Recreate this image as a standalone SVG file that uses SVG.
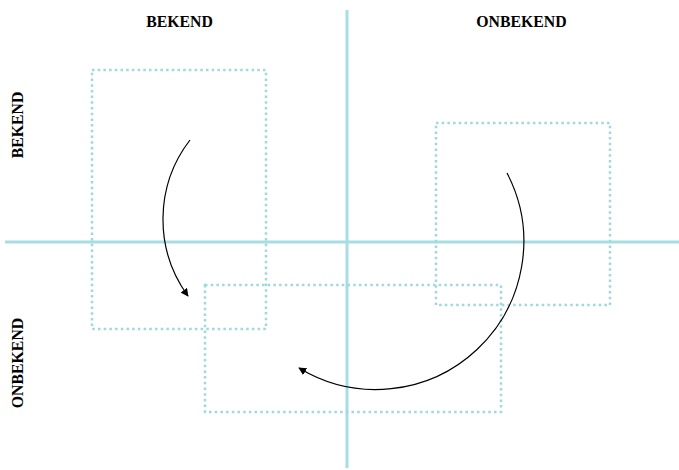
<svg xmlns="http://www.w3.org/2000/svg" width="679" height="470" viewBox="0 0 679 470">
<style>
.axis{stroke:#a8dde3;stroke-width:3;fill:none}
.box{fill:none;stroke:#9fd8df;stroke-width:2.5;stroke-dasharray:2.5 3.2}
.arc{fill:none;stroke:#000;stroke-width:1.2}
.lbl{font-family:"Liberation Serif","Times New Roman",serif;font-weight:bold;font-size:15.8px;fill:#000;text-anchor:middle}
</style>
<defs>
<marker id="ah" viewBox="0 0 10 10" refX="9" refY="5" markerWidth="8" markerHeight="8" markerUnits="userSpaceOnUse" orient="auto">
<path d="M0,0 L10,5 L0,10 z" fill="#000"/>
</marker>
</defs>
<g id="axes">
<line class="axis" x1="5" y1="242" x2="679" y2="242"/>
<line class="axis" x1="347" y1="10" x2="347" y2="468"/>
</g>
<g id="box1"><rect class="box" x="92" y="70" width="174" height="259"/></g>
<g id="box2"><rect class="box" x="436" y="123" width="174" height="182"/></g>
<g id="box3"><rect class="box" x="205" y="285" width="296" height="127"/></g>
<g id="labels">
<text class="lbl" x="179.5" y="27">BEKEND</text>
<text class="lbl" x="521.5" y="27">ONBEKEND</text>
<text class="lbl" transform="translate(23,125) rotate(-90)">BEKEND</text>
<text class="lbl" transform="translate(23,363) rotate(-90)">ONBEKEND</text>
</g>
<g id="connectors">
<path class="arc" d="M190,140 A130,130 0 0 0 188,296" marker-end="url(#ah)"/>
<path class="arc" d="M507,173 A148,148 0 0 1 299,368" marker-end="url(#ah)"/>
</g>
</svg>
